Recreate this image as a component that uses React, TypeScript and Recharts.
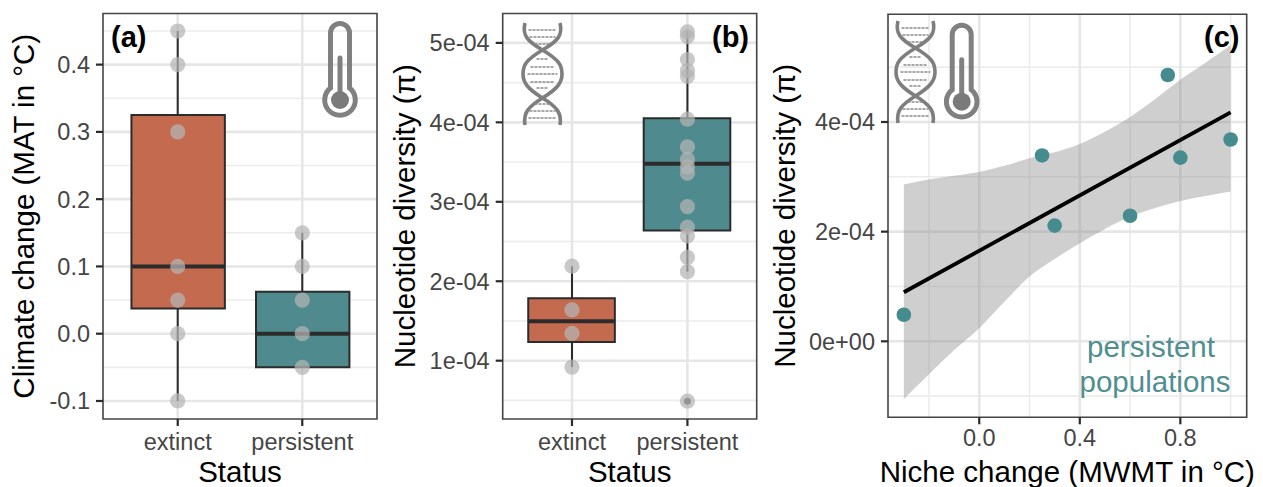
import {
  ComposedChart,
  Bar,
  Cell,
  Area,
  Line,
  Scatter,
  XAxis,
  YAxis,
  CartesianGrid,
  ReferenceLine,
  ReferenceArea,
} from "recharts";

const EXTINCT = "#c46b4f";
const PERSISTENT = "#4f8b8e";
const DARK = "#2b2b2b";
const FONT = "'Liberation Sans', Arial, sans-serif";

const statusLabels = ["extinct", "persistent"];
const statusPos = [1, 2];
const statusDomain = [0.4, 2.6];
const boxFills = [EXTINCT, PERSISTENT];

// panel a
const climateQ1 = [0.0375, -0.05];
const climateMedian = [0.1, 0];
const climateQ3 = [0.325, 0.0625];
const climateLow = [-0.1, -0.05];
const climateHigh = [0.45, 0.15];
const climateExtinct = [0.45, 0.4, 0.3, 0.1, 0.05, 0, -0.1];
const climatePersistent = [0.15, 0.1, 0.05, 0, -0.05];
const climateTicks = [-0.1, 0, 0.1, 0.2, 0.3, 0.4];
const climateMinor = [-0.05, 0.05, 0.15, 0.25, 0.35, 0.45];
const climateTickLabels = ["-0.1", "0.0", "0.1", "0.2", "0.3", "0.4"];

// panel b
const diversityQ1 = [1.236e-4, 2.64e-4];
const diversityMedian = [1.496e-4, 3.48e-4];
const diversityQ3 = [1.786e-4, 4.05e-4];
const diversityLow = [0.92e-4, 2.12e-4];
const diversityHigh = [2.19e-4, 5.15e-4];
const diversityExtinct = [2.19e-4, 1.64e-4, 1.345e-4, 0.92e-4];
const diversityPersistent = [
  5.14e-4, 5.08e-4, 4.79e-4, 4.65e-4, 4.58e-4, 4.04e-4, 3.69e-4, 3.53e-4, 3.44e-4, 3.36e-4,
  2.94e-4, 2.68e-4, 2.57e-4, 2.3e-4, 2.12e-4, 0.49e-4,
];
const diversityOutlier = [0.49e-4];
const diversityTicks = [1e-4, 2e-4, 3e-4, 4e-4, 5e-4];
const diversityMinor = [0.5e-4, 1.5e-4, 2.5e-4, 3.5e-4, 4.5e-4];
const diversityTickLabels = ["1e-04", "2e-04", "3e-04", "4e-04", "5e-04"];

// panel c
const nicheX = [-0.3, 0.25, 0.3, 0.6, 0.75, 0.8, 1.0];
const nicheY = [0.485e-4, 3.39e-4, 2.11e-4, 2.29e-4, 4.857e-4, 3.35e-4, 3.68e-4];
const fitX = [-0.3, 1.0];
const fitY = [0.894e-4, 4.176e-4];
const ribbonX = [-0.3, -0.2, -0.1, 0, 0.1, 0.2, 0.3, 0.4, 0.5, 0.6, 0.7, 0.8, 0.9, 1.0];
const ribbonLow = [-1.05e-4, -0.6e-4, -0.16e-4, 0.24e-4, 0.72e-4, 1.18e-4, 1.5e-4, 1.79e-4, 2.05e-4, 2.27e-4, 2.43e-4, 2.56e-4, 2.65e-4, 2.73e-4];
const ribbonHigh = [2.86e-4, 2.95e-4, 3.02e-4, 3.09e-4, 3.2e-4, 3.34e-4, 3.45e-4, 3.6e-4, 3.82e-4, 4.09e-4, 4.42e-4, 4.77e-4, 5.08e-4, 5.4e-4];
const nicheXTicks = [0, 0.4, 0.8];
const nicheXMinor = [-0.2, 0.2, 0.6, 1.0];
const nicheXLabels = ["0.0", "0.4", "0.8"];
const nicheYTicks = [0, 2e-4, 4e-4];
const nicheYMinor = [-1e-4, 1e-4, 3e-4, 5e-4];
const nicheYLabels = ["0e+00", "2e-04", "4e-04"];

const tickStyle = { fontSize: 23.5, fill: "#454545", fontFamily: FONT };
const titleStyle = { fontSize: 29.5, fill: "#000", fontFamily: FONT };

const lookup = (values: number[], labels: string[]) => (v: number) => {
  const i = values.findIndex((t) => Math.abs(t - v) < 1e-9);
  return i >= 0 ? labels[i] : "";
};

const dot = (fill: string, r: number, opacity = 1) => (p: any) => (
  <circle cx={p.cx} cy={p.cy} r={r} fill={fill} fillOpacity={opacity} />
);

function Grid({ hMajor, hMinor, vMajor, vMinor }: any) {
  return (
    <>
      <CartesianGrid horizontalValues={hMinor} verticalValues={vMinor} vertical={vMinor.length > 0} stroke="#ececec" strokeWidth={1.6} />
      <CartesianGrid horizontalValues={hMajor} verticalValues={vMajor} stroke="#e6e6e6" strokeWidth={2.6} />
    </>
  );
}

function BoxPanel({
  left, width, frameLeft, frameRight, domain, ticks, minor, tickLabels, yTitle, titleX,
  q1, med, q3, low, high, extinct, persistent, outliers = [],
}: any) {
  const boxes = statusPos.map((x, i) => ({ x, box: [q1[i], q3[i]] }));
  const extinctPts = extinct.map((y: number) => ({ x: 1, y }));
  const persistentPts = persistent.map((y: number) => ({ x: 2, y }));
  const outlierPts = outliers.map((y: number) => ({ x: 2, y }));
  return (
    <div style={{ position: "absolute", left, top: 0 }}>
      <ComposedChart
        width={width}
        height={487}
        data={boxes}
        margin={{ top: 13.5, right: width - frameRight, bottom: 0, left: 0 }}
      >
        <Grid hMajor={ticks} hMinor={minor} vMajor={statusPos} vMinor={[]} />
        <XAxis
          dataKey="x"
          type="number"
          domain={statusDomain}
          ticks={statusPos}
          interval={0}
          height={68}
          tickFormatter={lookup(statusPos, statusLabels)}
          tick={tickStyle}
          tickSize={7}
          tickMargin={7}
          tickLine={{ stroke: DARK, strokeWidth: 2.2 }}
          axisLine={false}
          label={{ value: "Status", position: "insideBottom", offset: 5, style: titleStyle }}
        />
        <YAxis
          type="number"
          domain={domain}
          ticks={ticks}
          interval={0}
          width={frameLeft}
          tickFormatter={lookup(ticks, tickLabels)}
          tick={tickStyle}
          tickSize={7}
          tickMargin={6}
          tickLine={{ stroke: DARK, strokeWidth: 2.2 }}
          axisLine={false}
          label={{ value: yTitle, angle: -90, position: "insideLeft", offset: titleX, textAnchor: "middle", style: titleStyle }}
        />
        {statusPos.map((x, i) => (
          <ReferenceLine key={"hi" + i} segment={[{ x, y: q3[i] }, { x, y: high[i] }]} stroke={DARK} strokeWidth={2} />
        ))}
        {statusPos.map((x, i) => (
          <ReferenceLine key={"lo" + i} segment={[{ x, y: low[i] }, { x, y: q1[i] }]} stroke={DARK} strokeWidth={2} />
        ))}
        <Bar dataKey="box" barSize={(frameRight - frameLeft) * 0.75 / 2.2} stroke={DARK} strokeWidth={2} isAnimationActive={false}>
          {boxes.map((b, i) => (
            <Cell key={b.x} fill={boxFills[i]} />
          ))}
        </Bar>
        {statusPos.map((x, i) => (
          <ReferenceLine key={"med" + i} segment={[{ x: x - 0.375, y: med[i] }, { x: x + 0.375, y: med[i] }]} stroke={DARK} strokeWidth={4} />
        ))}
        {outlierPts.length > 0 && (
          <Scatter data={outlierPts} dataKey="y" shape={dot("#444", 3.5)} isAnimationActive={false} />
        )}
        <Scatter data={extinctPts} dataKey="y" shape={dot("#b4b4b4", 7.6, 0.72)} isAnimationActive={false} />
        <Scatter data={persistentPts} dataKey="y" shape={dot("#b4b4b4", 7.6, 0.72)} isAnimationActive={false} />
        <ReferenceArea x1={statusDomain[0]} x2={statusDomain[1]} y1={domain[0]} y2={domain[1]} fill="none" stroke="#444" strokeWidth={1.6} />
      </ComposedChart>
    </div>
  );
}

function NichePanel() {
  const width = 503;
  const frameLeft = 128;
  const frameRight = 486.7;
  const xDomain = [-0.363, 1.064];
  const yDomain = [-1.386e-4, 5.964e-4];
  const ribbon = ribbonX.map((x, i) => ({ x, band: [ribbonLow[i], ribbonHigh[i]] }));
  const fit = fitX.map((x, i) => ({ x, y: fitY[i] }));
  const pts = nicheX.map((x, i) => ({ x, y: nicheY[i] }));
  return (
    <div style={{ position: "absolute", left: 760, top: 0 }}>
      <ComposedChart
        width={width}
        height={487}
        data={ribbon}
        margin={{ top: 14.3, right: width - frameRight, bottom: 0, left: 0 }}
      >
        <Grid hMajor={nicheYTicks} hMinor={nicheYMinor} vMajor={nicheXTicks} vMinor={nicheXMinor} />
        <XAxis
          dataKey="x"
          type="number"
          domain={xDomain}
          ticks={nicheXTicks}
          interval={0}
          height={69.7}
          tickFormatter={lookup(nicheXTicks, nicheXLabels)}
          tick={tickStyle}
          tickSize={7}
          tickMargin={5}
          tickLine={{ stroke: DARK, strokeWidth: 2.2 }}
          axisLine={false}
          label={{ value: "Niche change (MWMT in °C)", position: "insideBottom", offset: 5, style: titleStyle }}
        />
        <YAxis
          type="number"
          domain={yDomain}
          ticks={nicheYTicks}
          interval={0}
          width={frameLeft}
          tickFormatter={lookup(nicheYTicks, nicheYLabels)}
          tick={tickStyle}
          tickSize={7}
          tickMargin={6}
          tickLine={{ stroke: DARK, strokeWidth: 2.2 }}
          axisLine={false}
          label={{ value: "Nucleotide diversity (π)", angle: -90, position: "insideLeft", offset: 25, textAnchor: "middle", style: titleStyle }}
        />
        <Area dataKey="band" type="monotone" stroke="none" fill="#8c8c8c" fillOpacity={0.42} isAnimationActive={false} />
        <Line data={fit} dataKey="y" stroke="#000" strokeWidth={3.8} dot={false} isAnimationActive={false} />
        <Scatter data={pts} dataKey="y" shape={dot("#468c8e", 7.3)} isAnimationActive={false} />
        <ReferenceArea x1={xDomain[0]} x2={xDomain[1]} y1={yDomain[0]} y2={yDomain[1]} fill="none" stroke="#444" strokeWidth={1.6} />
      </ComposedChart>
    </div>
  );
}

function Thermometer({ x, y }: { x: number; y: number }) {
  return (
    <g transform={`translate(${x} ${y})`} stroke="#808080" fill="none">
      <path d="M-9.5 -12 V-67 A9.5 9.5 0 0 1 9.5 -67 V-12 A15.3 15.3 0 1 1 -9.5 -12 Z" strokeWidth={5} />
      <line x1={0} y1={-42} x2={0} y2={0} strokeWidth={5} strokeLinecap="round" />
      <circle r={9} fill="#7a7a7a" stroke="none" />
    </g>
  );
}

const rungY = [7, 14, 21, 36, 44, 51, 59, 65, 81, 88, 95];
const rungHalf = [14, 13, 8, 6, 12, 15, 12, 6, 8, 13, 14];

function Dna({ x, y }: { x: number; y: number }) {
  const strand = "M2 0 C-1 12 4 18 19.5 27 C36 37 39 42 39 51 C39 60 34 66 19.5 75 C5 84 0 90 2 102";
  return (
    <g transform={`translate(${x} ${y})`} fill="none" stroke="#7e7e7e">
      <path d={strand} strokeWidth={3.6} />
      <path d={strand} strokeWidth={3.6} transform="translate(39 0) scale(-1 1)" />
      {rungY.map((ry, i) => (
        <line key={ry} x1={19.5 - rungHalf[i]} x2={19.5 + rungHalf[i]} y1={ry} y2={ry} stroke="#8a8a8a" strokeWidth={1.4} strokeDasharray="3 1" />
      ))}
    </g>
  );
}

const panelTag = { fontFamily: FONT, fontSize: 29, fontWeight: 700, fill: "#000" };
const noteStyle = { fontFamily: FONT, fontSize: 29.5, fill: "#4f8f90", textAnchor: "middle" as const };

export default function App() {
  return (
    <div style={{ position: "absolute", left: 0, top: 0, width: 1263, height: 487, background: "#fff", overflow: "hidden" }}>
      <BoxPanel
        left={0}
        width={390}
        frameLeft={103}
        frameRight={377}
        domain={[-0.1268, 0.476]}
        ticks={climateTicks}
        minor={climateMinor}
        tickLabels={climateTickLabels}
        yTitle="Climate change (MAT in °C)"
        titleX={24}
        q1={climateQ1}
        med={climateMedian}
        q3={climateQ3}
        low={climateLow}
        high={climateHigh}
        extinct={climateExtinct}
        persistent={climatePersistent}
      />
      <BoxPanel
        left={380}
        width={390}
        frameLeft={122.7}
        frameRight={376.7}
        domain={[0.266e-4, 5.37e-4]}
        ticks={diversityTicks}
        minor={diversityMinor}
        tickLabels={diversityTickLabels}
        yTitle="Nucleotide diversity (π)"
        titleX={25}
        q1={diversityQ1}
        med={diversityMedian}
        q3={diversityQ3}
        low={diversityLow}
        high={diversityHigh}
        extinct={diversityExtinct}
        persistent={diversityPersistent}
        outliers={diversityOutlier}
      />
      <NichePanel />
      <svg width={1263} height={487} style={{ position: "absolute", left: 0, top: 0, pointerEvents: "none" }}>
        <Thermometer x={340} y={100} />
        <Dna x={523} y={23} />
        <Dna x={896} y={21} />
        <Thermometer x={961.7} y={101.7} />
        <text x={111} y={47} style={panelTag}>(a)</text>
        <text x={712} y={47} style={panelTag}>(b)</text>
        <text x={1204} y={47} style={panelTag}>(c)</text>
        <text x={1151} y={357} style={noteStyle}>persistent</text>
        <text x={1155} y={392} style={noteStyle}>populations</text>
      </svg>
    </div>
  );
}
